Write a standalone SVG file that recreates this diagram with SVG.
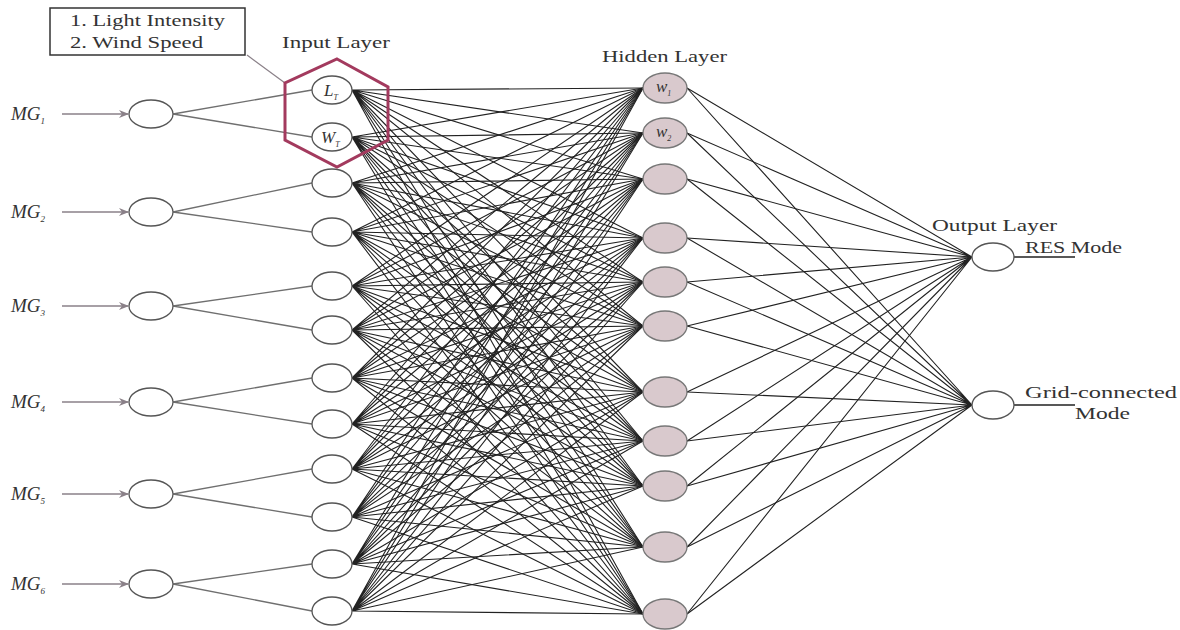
<svg xmlns="http://www.w3.org/2000/svg" width="1180" height="630" viewBox="0 0 1180 630">
<style>
.t{font-family:"Liberation Serif",serif;fill:#333;font-size:17px}
.i{font-style:italic}
.mg{font-size:19px}
.nd{fill:#fff;stroke:#555;stroke-width:1.3}
.hd{fill:#d9c9cd;stroke:#777;stroke-width:1.3}
.w{fill:none;stroke:#222;stroke-width:1.1}
.g{fill:none;stroke:#6f6f6f;stroke-width:1.3}
.ar{fill:none;stroke:#8a8088;stroke-width:1.3}
</style>
<defs>
<marker id="ah" markerWidth="10" markerHeight="8" refX="9" refY="4" orient="auto" markerUnits="userSpaceOnUse">
<path d="M0,0 L10,4 L0,8 L3,4 Z" fill="#8a8088"/>
</marker>
</defs>
<rect width="1180" height="630" fill="#fff"/>
<g id="connectors">
<g class="ar">
<line x1="62" y1="114" x2="128" y2="114" marker-end="url(#ah)"/>
<line x1="62" y1="212" x2="128" y2="212" marker-end="url(#ah)"/>
<line x1="62" y1="306" x2="128" y2="306" marker-end="url(#ah)"/>
<line x1="62" y1="402" x2="128" y2="402" marker-end="url(#ah)"/>
<line x1="62" y1="494" x2="128" y2="494" marker-end="url(#ah)"/>
<line x1="62" y1="584" x2="128" y2="584" marker-end="url(#ah)"/>
</g>
<path class="g" d="M173 114L312 90M173 114L312 137M173 212L312 183M173 212L312 232M173 306L312 286M173 306L312 330M173 402L312 378M173 402L312 424M173 494L312 469M173 494L312 517M173 584L312 564M173 584L312 611"/>
<g class="w">
<path d="M352 90L643 88M352 90L643 133M352 90L643 179M352 90L643 238M352 90L643 282M352 90L643 326M352 90L643 392M352 90L643 441M352 90L643 486M352 90L643 547M352 90L643 614"/>
<path d="M352 137L643 88M352 137L643 133M352 137L643 179M352 137L643 238M352 137L643 282M352 137L643 326M352 137L643 392M352 137L643 441M352 137L643 486M352 137L643 547M352 137L643 614"/>
<path d="M352 183L643 88M352 183L643 133M352 183L643 179M352 183L643 238M352 183L643 282M352 183L643 326M352 183L643 392M352 183L643 441M352 183L643 486M352 183L643 547M352 183L643 614"/>
<path d="M352 232L643 88M352 232L643 133M352 232L643 179M352 232L643 238M352 232L643 282M352 232L643 326M352 232L643 392M352 232L643 441M352 232L643 486M352 232L643 547M352 232L643 614"/>
<path d="M352 286L643 88M352 286L643 133M352 286L643 179M352 286L643 238M352 286L643 282M352 286L643 326M352 286L643 392M352 286L643 441M352 286L643 486M352 286L643 547M352 286L643 614"/>
<path d="M352 330L643 88M352 330L643 133M352 330L643 179M352 330L643 238M352 330L643 282M352 330L643 326M352 330L643 392M352 330L643 441M352 330L643 486M352 330L643 547M352 330L643 614"/>
<path d="M352 378L643 88M352 378L643 133M352 378L643 179M352 378L643 238M352 378L643 282M352 378L643 326M352 378L643 392M352 378L643 441M352 378L643 486M352 378L643 547M352 378L643 614"/>
<path d="M352 424L643 88M352 424L643 133M352 424L643 179M352 424L643 238M352 424L643 282M352 424L643 326M352 424L643 392M352 424L643 441M352 424L643 486M352 424L643 547M352 424L643 614"/>
<path d="M352 469L643 88M352 469L643 133M352 469L643 179M352 469L643 238M352 469L643 282M352 469L643 326M352 469L643 392M352 469L643 441M352 469L643 486M352 469L643 547M352 469L643 614"/>
<path d="M352 517L643 88M352 517L643 133M352 517L643 179M352 517L643 238M352 517L643 282M352 517L643 326M352 517L643 392M352 517L643 441M352 517L643 486M352 517L643 547M352 517L643 614"/>
<path d="M352 564L643 88M352 564L643 133M352 564L643 179M352 564L643 238M352 564L643 282M352 564L643 326M352 564L643 392M352 564L643 441M352 564L643 486M352 564L643 547M352 564L643 614"/>
<path d="M352 611L643 88M352 611L643 133M352 611L643 179M352 611L643 238M352 611L643 282M352 611L643 326M352 611L643 392M352 611L643 441M352 611L643 486M352 611L643 547M352 611L643 614"/>
<path d="M687 88L972 257M687 133L972 257M687 179L972 257M687 238L972 257M687 282L972 257M687 326L972 257M687 392L972 257M687 441L972 257M687 486L972 257M687 547L972 257M687 614L972 257"/>
<path d="M687 88L972 405M687 133L972 405M687 179L972 405M687 238L972 405M687 282L972 405M687 326L972 405M687 392L972 405M687 441L972 405M687 486L972 405M687 547L972 405M687 614L972 405"/>
<path d="M1014 257L1075 257M1014 405L1075 405" stroke-width="1.5"/>
</g>
<line x1="247" y1="55" x2="285" y2="83" stroke="#8a8088" stroke-width="1.2"/>
</g>
<g id="legend">
<rect x="50" y="8" width="195" height="47" fill="#fff" stroke="#333" stroke-width="1.5"/>
<text class="t" x="70" y="26" textLength="155" lengthAdjust="spacingAndGlyphs">1. Light Intensity</text>
<text class="t" x="70" y="48" textLength="133" lengthAdjust="spacingAndGlyphs">2. Wind Speed</text>
</g>
<g id="mg-nodes">
<g id="mg1"><text class="t i mg" x="11" y="120">MG<tspan font-size="9" dy="4">1</tspan></text><ellipse class="nd" cx="151" cy="114" rx="22" ry="14"/></g>
<g id="mg2"><text class="t i mg" x="11" y="218">MG<tspan font-size="9" dy="4">2</tspan></text><ellipse class="nd" cx="151" cy="212" rx="22" ry="14"/></g>
<g id="mg3"><text class="t i mg" x="11" y="312">MG<tspan font-size="9" dy="4">3</tspan></text><ellipse class="nd" cx="151" cy="306" rx="22" ry="14"/></g>
<g id="mg4"><text class="t i mg" x="11" y="408">MG<tspan font-size="9" dy="4">4</tspan></text><ellipse class="nd" cx="151" cy="402" rx="22" ry="14"/></g>
<g id="mg5"><text class="t i mg" x="11" y="500">MG<tspan font-size="9" dy="4">5</tspan></text><ellipse class="nd" cx="151" cy="494" rx="22" ry="14"/></g>
<g id="mg6"><text class="t i mg" x="11" y="590">MG<tspan font-size="9" dy="4">6</tspan></text><ellipse class="nd" cx="151" cy="584" rx="22" ry="14"/></g>
</g>
<g id="input-layer">
<text class="t" x="282" y="48" textLength="108" lengthAdjust="spacingAndGlyphs">Input Layer</text>
<g id="in1"><ellipse class="nd" cx="332" cy="90" rx="20" ry="14"/><text class="t i" x="324" y="96" font-size="16">L<tspan font-size="8" dy="4">T</tspan></text></g>
<g id="in2"><ellipse class="nd" cx="332" cy="137" rx="20" ry="14"/><text class="t i" x="321" y="143" font-size="16">W<tspan font-size="8" dy="4">T</tspan></text></g>
<g id="in3"><ellipse class="nd" cx="332" cy="183" rx="20" ry="14"/></g>
<g id="in4"><ellipse class="nd" cx="332" cy="232" rx="20" ry="14"/></g>
<g id="in5"><ellipse class="nd" cx="332" cy="286" rx="20" ry="14"/></g>
<g id="in6"><ellipse class="nd" cx="332" cy="330" rx="20" ry="14"/></g>
<g id="in7"><ellipse class="nd" cx="332" cy="378" rx="20" ry="14"/></g>
<g id="in8"><ellipse class="nd" cx="332" cy="424" rx="20" ry="14"/></g>
<g id="in9"><ellipse class="nd" cx="332" cy="469" rx="20" ry="14"/></g>
<g id="in10"><ellipse class="nd" cx="332" cy="517" rx="20" ry="14"/></g>
<g id="in11"><ellipse class="nd" cx="332" cy="564" rx="20" ry="14"/></g>
<g id="in12"><ellipse class="nd" cx="332" cy="611" rx="20" ry="14"/></g>
<polygon id="highlight" points="337,59 388,87 388,140 337,167 285,140 285,83" fill="none" stroke="#a33a5e" stroke-width="3"/>
</g>
<g id="hidden-layer">
<text class="t" x="602" y="62" textLength="125" lengthAdjust="spacingAndGlyphs">Hidden Layer</text>
<g id="h1"><ellipse class="hd" cx="665" cy="88" rx="22" ry="15"/><text class="t i" x="656" y="92" font-size="14">w<tspan font-size="8" dy="4">1</tspan></text></g>
<g id="h2"><ellipse class="hd" cx="665" cy="133" rx="22" ry="15"/><text class="t i" x="656" y="137" font-size="14">w<tspan font-size="8" dy="4">2</tspan></text></g>
<g id="h3"><ellipse class="hd" cx="665" cy="179" rx="22" ry="15"/></g>
<g id="h4"><ellipse class="hd" cx="665" cy="238" rx="22" ry="15"/></g>
<g id="h5"><ellipse class="hd" cx="665" cy="282" rx="22" ry="15"/></g>
<g id="h6"><ellipse class="hd" cx="665" cy="326" rx="22" ry="15"/></g>
<g id="h7"><ellipse class="hd" cx="665" cy="392" rx="22" ry="15"/></g>
<g id="h8"><ellipse class="hd" cx="665" cy="441" rx="22" ry="15"/></g>
<g id="h9"><ellipse class="hd" cx="665" cy="486" rx="22" ry="15"/></g>
<g id="h10"><ellipse class="hd" cx="665" cy="547" rx="22" ry="15"/></g>
<g id="h11"><ellipse class="hd" cx="665" cy="614" rx="22" ry="15"/></g>
</g>
<g id="output-layer">
<text class="t" x="932" y="231" textLength="125" lengthAdjust="spacingAndGlyphs">Output Layer</text>
<g id="out1"><ellipse class="nd" cx="993" cy="257" rx="21" ry="14"/><text class="t" x="1025" y="253" textLength="97" lengthAdjust="spacingAndGlyphs">RES Mode</text></g>
<g id="out2"><ellipse class="nd" cx="993" cy="405" rx="21" ry="14"/><text class="t" x="1025" y="398" textLength="152" lengthAdjust="spacingAndGlyphs">Grid-connected</text><text class="t" x="1075" y="419" textLength="55" lengthAdjust="spacingAndGlyphs">Mode</text></g>
</g>
</svg>
